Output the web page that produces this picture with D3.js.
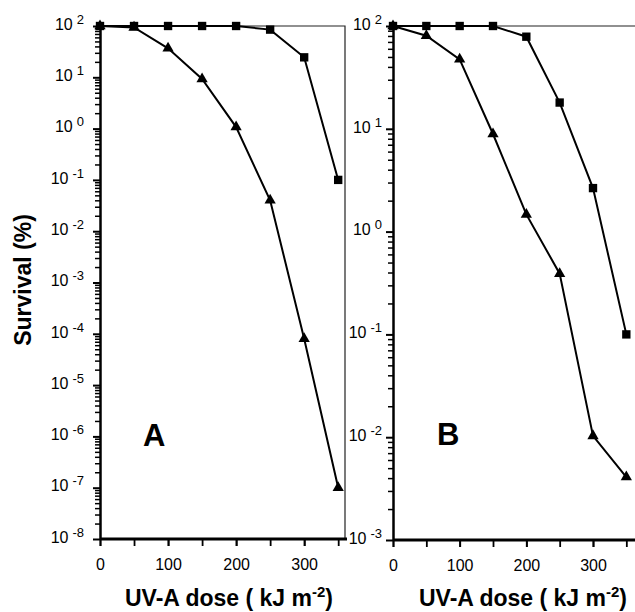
<!DOCTYPE html>
<meta charset="utf-8">
<script src="https://d3js.org/d3.v7.min.js"></script>
<style>
  body { margin: 0; background: #fff; }
  text { font-family: "Liberation Sans", Arial, Helvetica, sans-serif; fill: #000; }
</style>
<div id="chart"></div>
<script>

// UV-A dose (kJ m-2)
var doses = [0, 50, 100, 150, 200, 250, 300, 350];

// panel A survival (%)
var squaresA = [100, 100, 100, 100, 100, 85, 24.5, 0.1];
var trianglesA = [100, 94, 36.7, 9.3, 1.07, 0.04, 0.00008, 0.0000001];

// panel B survival (%)
var squaresB = [100, 100, 100, 100, 78.7, 18, 2.65, 0.1];
var trianglesB = [100, 80.5, 47.4, 8.9, 1.47, 0.39, 0.0103, 0.0041];

// tick labels
var xTicks = [0, 100, 200, 300];
var xMinorTicks = [0, 50, 100, 150, 200, 250, 300, 350];
var yExpA = [2, 1, 0, -1, -2, -3, -4, -5, -6, -7, -8];
var yExpB = [2, 1, 0, -1, -2, -3];

var W = 635, H = 612;

var svg = d3.select("#chart")
  .append("svg")
    .attr("width", W)
    .attr("height", H);

function minorTicks(exps) {
  var lo = d3.min(exps), hi = d3.max(exps), out = [];
  for (var e = lo; e < hi; e++) {
    for (var k = 2; k <= 9; k++) out.push(k * Math.pow(10, e));
  }
  return out;
}

function drawPanel(p) {
  var x = d3.scaleLinear().domain([0, 360]).range([p.left, p.right]);
  var y = d3.scaleLog()
    .domain([Math.pow(10, d3.min(p.exps)), Math.pow(10, d3.max(p.exps))])
    .range([p.bottom, p.top]);

  var g = svg.append("g");

  // frame: top line and (for A) right line
  g.append("path")
    .attr("d", "M" + p.left + "," + p.top + "H" + p.frameRight + (p.rightBorder ? "V" + p.bottom : ""))
    .attr("fill", "none")
    .attr("stroke", "#222")
    .attr("stroke-width", 1.2);

  // minor y ticks
  var yMinor = g.append("g")
    .attr("transform", "translate(" + p.left + ",0)")
    .call(d3.axisLeft(y).tickValues(minorTicks(p.exps)).tickSize(5).tickFormat(""));
  yMinor.select(".domain").remove();
  yMinor.selectAll(".tick line")
    .attr("stroke", "#000")
    .attr("stroke-width", 1.5);

  // major y ticks + axis line
  var yAxis = g.append("g")
    .attr("transform", "translate(" + p.left + ",0)")
    .call(d3.axisLeft(y)
      .tickValues(p.exps.map(function(e) { return Math.pow(10, e); }))
      .tickSize(7).tickSizeOuter(0).tickFormat(""));
  yAxis.select(".domain").attr("stroke", "#000").attr("stroke-width", 2.5);
  yAxis.selectAll(".tick line").attr("stroke", "#000").attr("stroke-width", 2);
  yAxis.selectAll(".tick text")
    .attr("x", -p.labelGap)
    .attr("dy", "0.2em")
    .style("font-size", "16px")
    .each(function(d) {
      var t = d3.select(this);
      var e = Math.round(Math.log10(d));
      t.text(null);
      t.append("tspan").text("10");
      t.append("tspan")
        .attr("dx", 4)
        .attr("dy", -6)
        .style("font-size", "13px")
        .text(String(e));
    });

  // x axis
  var xAxisMinor = g.append("g")
    .attr("transform", "translate(0," + p.bottom + ")")
    .call(d3.axisBottom(x).tickValues(xMinorTicks).tickSize(7).tickFormat(""));
  xAxisMinor.select(".domain").remove();
  xAxisMinor.selectAll(".tick line").attr("stroke", "#000").attr("stroke-width", 1.8);

  var xAxis = g.append("g")
    .attr("transform", "translate(0," + p.bottom + ")")
    .call(d3.axisBottom(x).tickValues(xTicks).tickSize(7).tickSizeOuter(0));
  xAxis.select(".domain")
    .attr("d", "M" + p.left + ",0H" + p.axisRight)
    .attr("stroke", "#000")
    .attr("stroke-width", 3);
  xAxis.selectAll(".tick line").attr("stroke", "#000").attr("stroke-width", 1.8);
  xAxis.selectAll("text")
    .attr("y", 20)
    .style("font-size", "16px");

  // series
  var line = d3.line()
    .x(function(d) { return x(d[0]); })
    .y(function(d) { return y(d[1]); });

  [p.squares, p.triangles].forEach(function(vals, i) {
    var pts = doses.map(function(d, j) { return [d, vals[j]]; });
    g.append("path")
      .datum(pts)
      .attr("d", line)
      .attr("fill", "none")
      .attr("stroke", "#000")
      .attr("stroke-width", 2);
    g.selectAll(null)
      .data(pts)
      .enter()
      .append("path")
        .attr("transform", function(d) { return "translate(" + x(d[0]) + "," + y(d[1]) + ")"; })
        .attr("d", d3.symbol().type(i === 0 ? d3.symbolSquare : d3.symbolTriangle).size(i === 0 ? 70 : 55))
        .attr("fill", "#000");
  });

  // panel letter
  g.append("text")
    .attr("x", p.letterX)
    .attr("y", p.letterY)
    .style("font-size", "31px")
    .style("font-weight", "bold")
    .text(p.letter);

  // x title
  var xt = g.append("text")
    .attr("x", p.titleX)
    .attr("y", 606)
    .attr("text-anchor", "middle")
    .style("font-size", "23px")
    .style("font-weight", "bold");
  xt.append("tspan").text("UV-A dose ( kJ m");
  xt.append("tspan").attr("dy", -9).style("font-size", "15px").text("-2");
  xt.append("tspan").attr("dy", 9).text(")");
}

drawPanel({
  left: 100, right: 345, frameRight: 345, axisRight: 347, rightBorder: true,
  top: 26, bottom: 539, exps: yExpA, labelGap: 16,
  squares: squaresA, triangles: trianglesA,
  letter: "A", letterX: 143, letterY: 446, titleX: 229
});

drawPanel({
  left: 393, right: 633, frameRight: 635, axisRight: 635, rightBorder: false,
  top: 26, bottom: 540, exps: yExpB, labelGap: 11,
  squares: squaresB, triangles: trianglesB,
  letter: "B", letterX: 437, letterY: 445, titleX: 523
});

// y title
svg.append("text")
  .attr("transform", "translate(31,280) rotate(-90)")
  .attr("text-anchor", "middle")
  .style("font-size", "23px")
  .style("font-weight", "bold")
  .text("Survival (%)");

</script>
